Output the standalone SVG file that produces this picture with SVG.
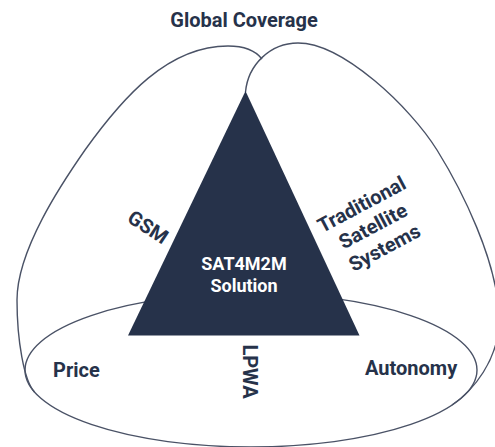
<svg xmlns="http://www.w3.org/2000/svg" width="495" height="447" viewBox="0 0 495 447">
  <style>
    .outline { fill: none; stroke: #4a5266; stroke-width: 1.4; }
    .label { font-family: Roboto, "Liberation Sans", sans-serif; font-weight: 700; font-size: 20px; fill: #26324a; }
    .core { font-family: Roboto, "Liberation Sans", sans-serif; font-weight: 700; font-size: 18px; fill: #ffffff; text-anchor: middle; }
  </style>
  <rect width="495" height="447" fill="#ffffff"/>

  <g id="connectors">
    <!-- bottom ellipse: Price / LPWA / Autonomy -->
    <ellipse class="outline" cx="251" cy="370" rx="226" ry="77"/>
    <!-- left lobe: GSM -->
    <path class="outline" d="M 262 59 C 255 50, 242 46, 228 46 C 168 46, 123 97, 85 150 C 62 183, 17 250, 17 300 C 17 340, 24 381, 34.5 392"/>
    <!-- right lobe: traditional satellite systems -->
    <path class="outline" d="M 245.5 92 C 248 65, 270 43, 298 43 C 343 43, 410.5 107.5, 437 150 C 460 187, 499 262, 499 320 C 499 360, 472.75 391, 452 405"/>
  </g>

  <g id="global-coverage">
    <text class="label" x="244" y="27" text-anchor="middle">Global Coverage</text>
  </g>

  <g id="solution">
    <polygon points="245.5,91 128,335.5 359.5,335.5" fill="#26324a"/>
    <text class="core" x="244" y="270">SAT4M2M</text>
    <text class="core" x="244" y="291.5">Solution</text>
  </g>

  <g id="gsm">
    <text class="label" text-anchor="middle" transform="translate(148 227) rotate(33)" y="7">GSM</text>
  </g>

  <g id="traditional-satellite">
    <g transform="translate(373 226) rotate(-28)">
      <text class="label" text-anchor="middle" y="-17.5">Traditional</text>
      <text class="label" text-anchor="middle" y="7">Satellite</text>
      <text class="label" text-anchor="middle" y="31.5">Systems</text>
    </g>
  </g>

  <g id="price">
    <text class="label" x="53" y="377">Price</text>
  </g>

  <g id="lpwa">
    <text class="label" text-anchor="middle" transform="translate(250 371.5) rotate(90)" y="7">LPWA</text>
  </g>

  <g id="autonomy">
    <text class="label" x="365" y="375">Autonomy</text>
  </g>
</svg>
